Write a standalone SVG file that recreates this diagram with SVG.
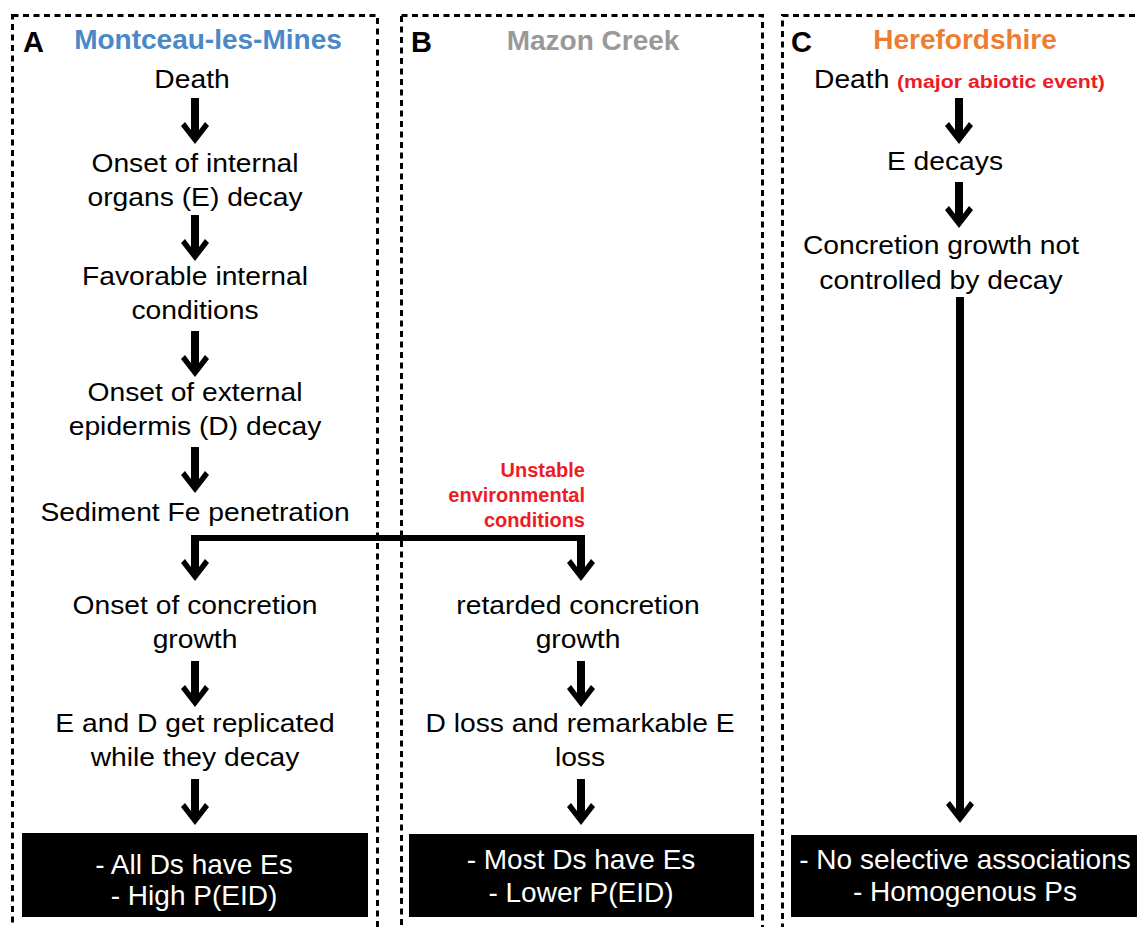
<svg xmlns="http://www.w3.org/2000/svg" width="1137" height="927" viewBox="0 0 1137 927">
<style>
.panel{fill:none;stroke:#000;stroke-width:3;stroke-dasharray:6 4.5}
.lab{font-family:"Liberation Sans",Arial,sans-serif;font-weight:bold;font-size:29px;fill:#000}
.hd{font-family:"Liberation Sans",Arial,sans-serif;font-weight:bold;font-size:28px;text-anchor:middle}
.t{font-family:"Liberation Sans",Arial,sans-serif;font-size:25px;fill:#000;text-anchor:middle}
.red{font-family:"Liberation Sans",Arial,sans-serif;font-weight:bold;fill:#ed1c24}
.box{fill:#000}
.bt{font-family:"Liberation Sans",Arial,sans-serif;font-size:28px;fill:#fff;text-anchor:middle}
.arr{fill:#000}
</style>
<defs>
<path id="ar" d="M-4,0 H4 V32 L10,24 L14,28 L0,46 L-14,28 L-10,24 L-4,32 Z"/>
</defs>
<rect width="1137" height="927" fill="#fff"/>
<g id="panelA">
<rect class="panel" x="12.5" y="15.5" width="365" height="960"/>
<text class="lab" x="23" y="52">A</text>
<text class="hd" x="208" y="49" fill="#4a88c7">Montceau-les-Mines</text>
</g>
<g id="panelB">
<rect class="panel" x="401.5" y="15.5" width="361" height="960"/>
<text class="lab" x="411" y="52">B</text>
<text class="hd" x="593" y="50" fill="#999999">Mazon Creek</text>
</g>
<g id="panelC">
<rect class="panel" x="782.5" y="15.5" width="400" height="960"/>
<text class="lab" x="791" y="52">C</text>
<text class="hd" x="965" y="49" fill="#ed7d31">Herefordshire</text>
</g>
<g id="a1"><text class="t" transform="translate(192,88) scale(1.13,1)">Death</text></g>
<g id="a2"><text class="t" transform="translate(195,172) scale(1.13,1)"><tspan x="0" y="0">Onset of internal</tspan><tspan x="0" y="34">organs (E) decay</tspan></text></g>
<g id="a3"><text class="t" transform="translate(195,285) scale(1.13,1)"><tspan x="0" y="0">Favorable internal</tspan><tspan x="0" y="34">conditions</tspan></text></g>
<g id="a4"><text class="t" transform="translate(195,401) scale(1.13,1)"><tspan x="0" y="0">Onset of external</tspan><tspan x="0" y="34">epidermis (D) decay</tspan></text></g>
<g id="a5"><text class="t" transform="translate(195,521) scale(1.13,1)">Sediment Fe penetration</text></g>
<g id="a6"><text class="t" transform="translate(195,614) scale(1.13,1)"><tspan x="0" y="0">Onset of concretion</tspan><tspan x="0" y="34">growth</tspan></text></g>
<g id="a7"><text class="t" transform="translate(195,732) scale(1.13,1)"><tspan x="0" y="0">E and D get replicated</tspan><tspan x="0" y="34">while they decay</tspan></text></g>
<g id="a8"><rect class="box" x="22" y="833" width="346" height="84"/><text class="bt" x="194" y="874">- All Ds have Es</text><text class="bt" x="194" y="905">- High P(EID)</text></g>
<g id="bnote"><text class="red" font-size="20" text-anchor="end"><tspan x="585" y="477">Unstable</tspan><tspan x="585" y="502">environmental</tspan><tspan x="585" y="527">conditions</tspan></text></g>
<g id="b1"><text class="t" transform="translate(578,614) scale(1.13,1)"><tspan x="0" y="0">retarded concretion</tspan><tspan x="0" y="34">growth</tspan></text></g>
<g id="b2"><text class="t" transform="translate(580,732) scale(1.13,1)"><tspan x="0" y="0">D loss and remarkable E</tspan><tspan x="0" y="34">loss</tspan></text></g>
<g id="b3"><rect class="box" x="409" y="834" width="345" height="83"/><text class="bt" x="581" y="869">- Most Ds have Es</text><text class="bt" x="581" y="902">- Lower P(EID)</text></g>
<g id="c1"><text class="t" style="text-anchor:start" transform="translate(814,88) scale(1.13,1)">Death</text><text class="red" font-size="19" transform="translate(897,88) scale(1.12,1)">(major abiotic event)</text></g>
<g id="c2"><text class="t" transform="translate(945,170) scale(1.13,1)">E decays</text></g>
<g id="c3"><text class="t" transform="translate(941,254) scale(1.13,1)"><tspan x="0" y="0">Concretion growth not</tspan><tspan x="0" y="35">controlled by decay</tspan></text></g>
<g id="c4"><rect class="box" x="791" y="835" width="360" height="82"/><text class="bt" x="965" y="869">- No selective associations</text><text class="bt" x="965" y="901">- Homogenous Ps</text></g>
<g id="connectors" class="arr">
<use href="#ar" x="195" y="98"/>
<use href="#ar" x="195" y="215"/>
<use href="#ar" x="195" y="331"/>
<use href="#ar" x="195" y="447"/>
<rect x="191" y="535" width="394" height="6"/>
<use href="#ar" x="195" y="535"/>
<use href="#ar" x="581" y="535"/>
<use href="#ar" x="195" y="661"/>
<use href="#ar" x="195" y="779"/>
<use href="#ar" x="581" y="661"/>
<use href="#ar" x="581" y="779"/>
<use href="#ar" x="959" y="98"/>
<use href="#ar" x="959" y="182"/>
<rect x="956" y="297" width="8" height="510"/>
<use href="#ar" x="960" y="777"/>
</g>
</svg>
